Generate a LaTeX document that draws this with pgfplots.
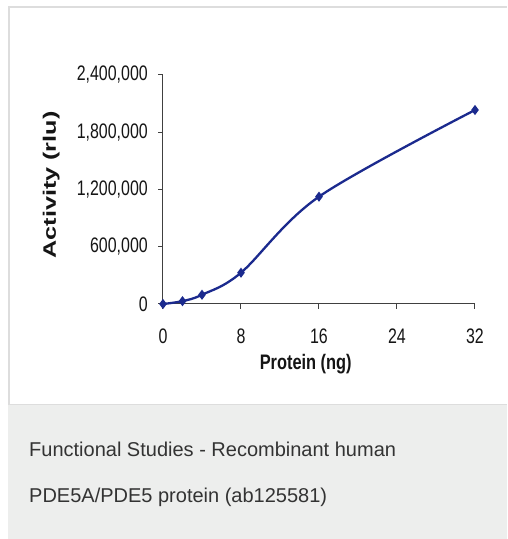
\documentclass[border=0pt]{standalone}
\usepackage{fontspec}
\setmainfont{Liberation Sans}
\usepackage{pgfplots}
\pgfplotsset{compat=1.18}
\definecolor{lineblue}{HTML}{1B2A8E}
\definecolor{axisgray}{HTML}{404040}
\definecolor{ticktext}{HTML}{151515}
\definecolor{cardborder}{HTML}{DDDDDD}
\definecolor{capbg}{HTML}{EDEEED}
\definecolor{captext}{HTML}{333333}
\newcommand{\tickfont}{\fontsize{21}{24}\selectfont}
\begin{document}
\begin{tikzpicture}[x=1pt,y=1pt]
\useasboundingbox (0,0) rectangle (507,539);
\fill[white] (0,0) rectangle (507,539);
% card
\fill[capbg] (8,0) rectangle (507,134);
\draw[cardborder, line width=2pt] (9,134) -- (9,532) -- (507,532);
\draw[cardborder, line width=1pt] (8,134) -- (507,134);
\begin{axis}[
  at={(163pt,235pt)}, anchor=south west,
  scale only axis, width=312pt, height=229pt,
  xmin=0, xmax=32, ymin=0, ymax=2400000,
  enlargelimits=false, clip=false,
  axis x line*=bottom, axis y line*=left,
  axis line style={axisgray, line width=1pt},
  tick style={axisgray, line width=1pt},
  major tick length=5pt, tick align=outside,
  xtick={0,8,16,24,32},
  ytick={0,600000,1200000,1800000,2400000},
  scaled y ticks=false,
  /pgf/number format/.cd, fixed, 1000 sep={,}, assume math mode=true,
  /pgfplots/.cd,
  xticklabel={\scalebox{0.76}[1]{\tickfont\pgfmathprintnumber{\tick}}},
  yticklabel={\scalebox{0.76}[1]{\tickfont\pgfmathprintnumber{\tick}}},
  xticklabel style={anchor=base, inner sep=0pt, yshift=-34pt, text=ticktext},
  yticklabel style={anchor=east, inner sep=0pt, xshift=-10pt, text=ticktext},
]
\addplot[smooth, tension=0.55, color=lineblue, line width=2.3pt,
  mark=diamond*, mark size=3.2pt, mark options={solid, fill=lineblue}]
  coordinates {(0,0) (2,30000) (4,97000) (8,328000) (16,1125000) (32,2033000)};
\end{axis}
% axis titles
\node[anchor=base, inner sep=0pt, text=ticktext] at (305.7,169)
  {\scalebox{0.78}[1]{\fontsize{21}{24}\selectfont\bfseries Protein (ng)}};
\node[anchor=base, inner sep=0pt, rotate=90, text=ticktext] at (56,354)
  {\scalebox{1.40}[1]{\fontsize{18}{22}\selectfont\bfseries Activity (rlu)}};
% caption
\node[anchor=base west, inner sep=0pt, text=captext] at (29,82)
  {\fontsize{20}{24}\selectfont Functional Studies - Recombinant human};
\node[anchor=base west, inner sep=0pt, text=captext] at (29,37)
  {\fontsize{20}{24}\selectfont PDE5A/PDE5 protein (ab125581)};
\end{tikzpicture}
\end{document}
